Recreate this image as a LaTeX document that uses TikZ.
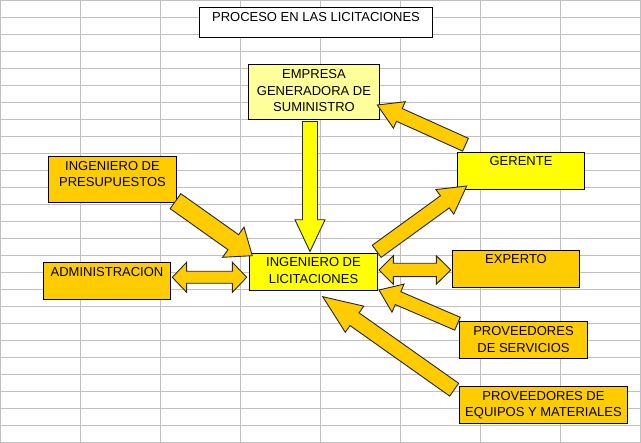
\documentclass[tikz,border=0pt]{standalone}
\usepackage{fontspec}
\setmainfont{Liberation Sans}
\usetikzlibrary{calc}
\definecolor{gridc}{RGB}{192,192,192}
\definecolor{gold}{RGB}{255,204,0}
\definecolor{yel}{RGB}{255,255,0}
\definecolor{lyel}{RGB}{255,255,153}
\tikzset{
  gridline/.style={draw=gridc, line width=1pt},
  box/.style={draw=black, line width=1pt, inner sep=0pt, anchor=north west},
  txt/.style={font=\fontsize{13}{16.7}\selectfont, align=center, inner sep=0pt, anchor=north, text=black},
  barrow/.style={draw=black!85, line width=0.9pt, fill=gold, line join=miter},
}
% single block arrow: [style] tail, tip, half shaft, half head, head length
\newcommand{\blockarrow}[6][]{%
  \coordinate (hb) at ($(#3)!#6!(#2)$);
  \draw[barrow,#1] ($(#2)!#4!90:(#3)$) -- ($(hb)!#4!90:(#3)$) -- ($(hb)!#5!90:(#3)$) -- (#3)
     -- ($(hb)!#5!-90:(#3)$) -- ($(hb)!#4!-90:(#3)$) -- ($(#2)!#4!-90:(#3)$) -- cycle;}
% double block arrow: [style] end A, end B, half shaft, half head, head length
\newcommand{\dblarrow}[6][]{%
  \coordinate (ha) at ($(#2)!#6!(#3)$);
  \coordinate (hb) at ($(#3)!#6!(#2)$);
  \draw[barrow,#1] (#2) -- ($(ha)!#5!90:(#3)$) -- ($(ha)!#4!90:(#3)$) -- ($(hb)!#4!-90:(#2)$)
     -- ($(hb)!#5!-90:(#2)$) -- (#3) -- ($(hb)!#5!90:(#2)$) -- ($(hb)!#4!90:(#2)$)
     -- ($(ha)!#4!-90:(#3)$) -- ($(ha)!#5!-90:(#3)$) -- cycle;}
\begin{document}
\begin{tikzpicture}[x=1pt,y=-1pt]
\useasboundingbox (0,0) rectangle (641,443);
\fill[white] (0,0) rectangle (641,443);
% spreadsheet grid
\foreach \i in {0,...,8} \draw[gridline] (80*\i+0.5,0) -- (80*\i+0.5,443);
\foreach \j in {0,...,26} \draw[gridline] (0,17*\j+0.5) -- (641,17*\j+0.5);

% boxes
\node[box, fill=white, minimum width=233pt, minimum height=30pt] (title) at (199,7) {};
\node[box, fill=lyel, minimum width=131pt, minimum height=55pt] (emp) at (248,64) {};
\node[box, fill=gold, minimum width=128pt, minimum height=46pt] (pres) at (48,156) {};
\node[box, fill=gold, minimum width=127pt, minimum height=37pt] (adm) at (43,262) {};
\node[box, fill=yel, minimum width=128pt, minimum height=37pt] (ing) at (249,253) {};
\node[box, fill=yel, minimum width=127pt, minimum height=37pt] (ger) at (457,152) {};
\node[box, fill=gold, minimum width=127pt, minimum height=37pt] (exp) at (452,250) {};
\node[box, fill=gold, minimum width=128pt, minimum height=37pt] (serv) at (459,321) {};
\node[box, fill=gold, minimum width=168pt, minimum height=37pt] (equ) at (459,386) {};

% texts
\node[txt] (titleT) at ($(title.north)+(0,4)$) {\rule{0pt}{10pt}PROCESO EN LAS LICITACIONES};
\node[txt] (empT) at ($(emp.north)+(0,4.3)$) {\rule{0pt}{10pt}EMPRESA\\GENERADORA DE\\SUMINISTRO};
\node[txt] (presT) at ($(pres.north)+(0,4)$) {\rule{0pt}{10pt}INGENIERO DE\\PRESUPUESTOS};
\node[txt] (admT) at ($(adm.north)+(0,4.4)$) {\rule{0pt}{10pt}ADMINISTRACION};
\node[txt] (ingT) at ($(ing.north)+(0,3.7)$) {\rule{0pt}{10pt}INGENIERO DE\\LICITACIONES};
\node[txt] (gerT) at ($(ger.north)+(0,3.4)$) {\rule{0pt}{10pt}GERENTE};
\node[txt] (expT) at ($(exp.north)+(0,3.7)$) {\rule{0pt}{10pt}EXPERTO};
\node[txt] (servT) at ($(serv.north)+(0,4.7)$) {\rule{0pt}{10pt}PROVEEDORES\\DE SERVICIOS};
\node[txt] (equT) at ($(equ.north)+(0,4)$) {\rule{0pt}{10pt}PROVEEDORES DE\\EQUIPOS Y MATERIALES};

% connector end points
\coordinate (vA) at (310,121.5);   \coordinate (vB) at (310,251.5);
\coordinate (pA) at (175.5,201.2); \coordinate (pB) at (252.3,255.7);
\coordinate (gA) at (465.5,144.7); \coordinate (gB) at (377.3,105);
\coordinate (iA) at (376.7,251.3); \coordinate (iB) at (466.7,186);
\coordinate (sA) at (457.5,323.7); \coordinate (sB) at (379,290);
\coordinate (qA) at (454.2,389.7); \coordinate (qB) at (322.7,296.7);
\coordinate (aA) at (172.3,277.3); \coordinate (aB) at (246.7,277.3);
\coordinate (xA) at (379,270);     \coordinate (xB) at (450.7,270);

% block arrows
\blockarrow[fill=yel]{vA}{vB}{7.5pt}{15pt}{31.7pt}
\blockarrow{pA}{pB}{9.2pt}{18.5pt}{23.3pt}
\blockarrow{gA}{gB}{7pt}{14.5pt}{24.2pt}
\blockarrow{iA}{iB}{7.5pt}{15.2pt}{27pt}
\blockarrow{sA}{sB}{7pt}{15.3pt}{20.7pt}
\blockarrow{qA}{qB}{7.8pt}{16pt}{39pt}
\dblarrow{aA}{aB}{6pt}{15pt}{14.3pt}
\dblarrow{xA}{xB}{6.7pt}{14.2pt}{14.3pt}
\end{tikzpicture}
\end{document}
